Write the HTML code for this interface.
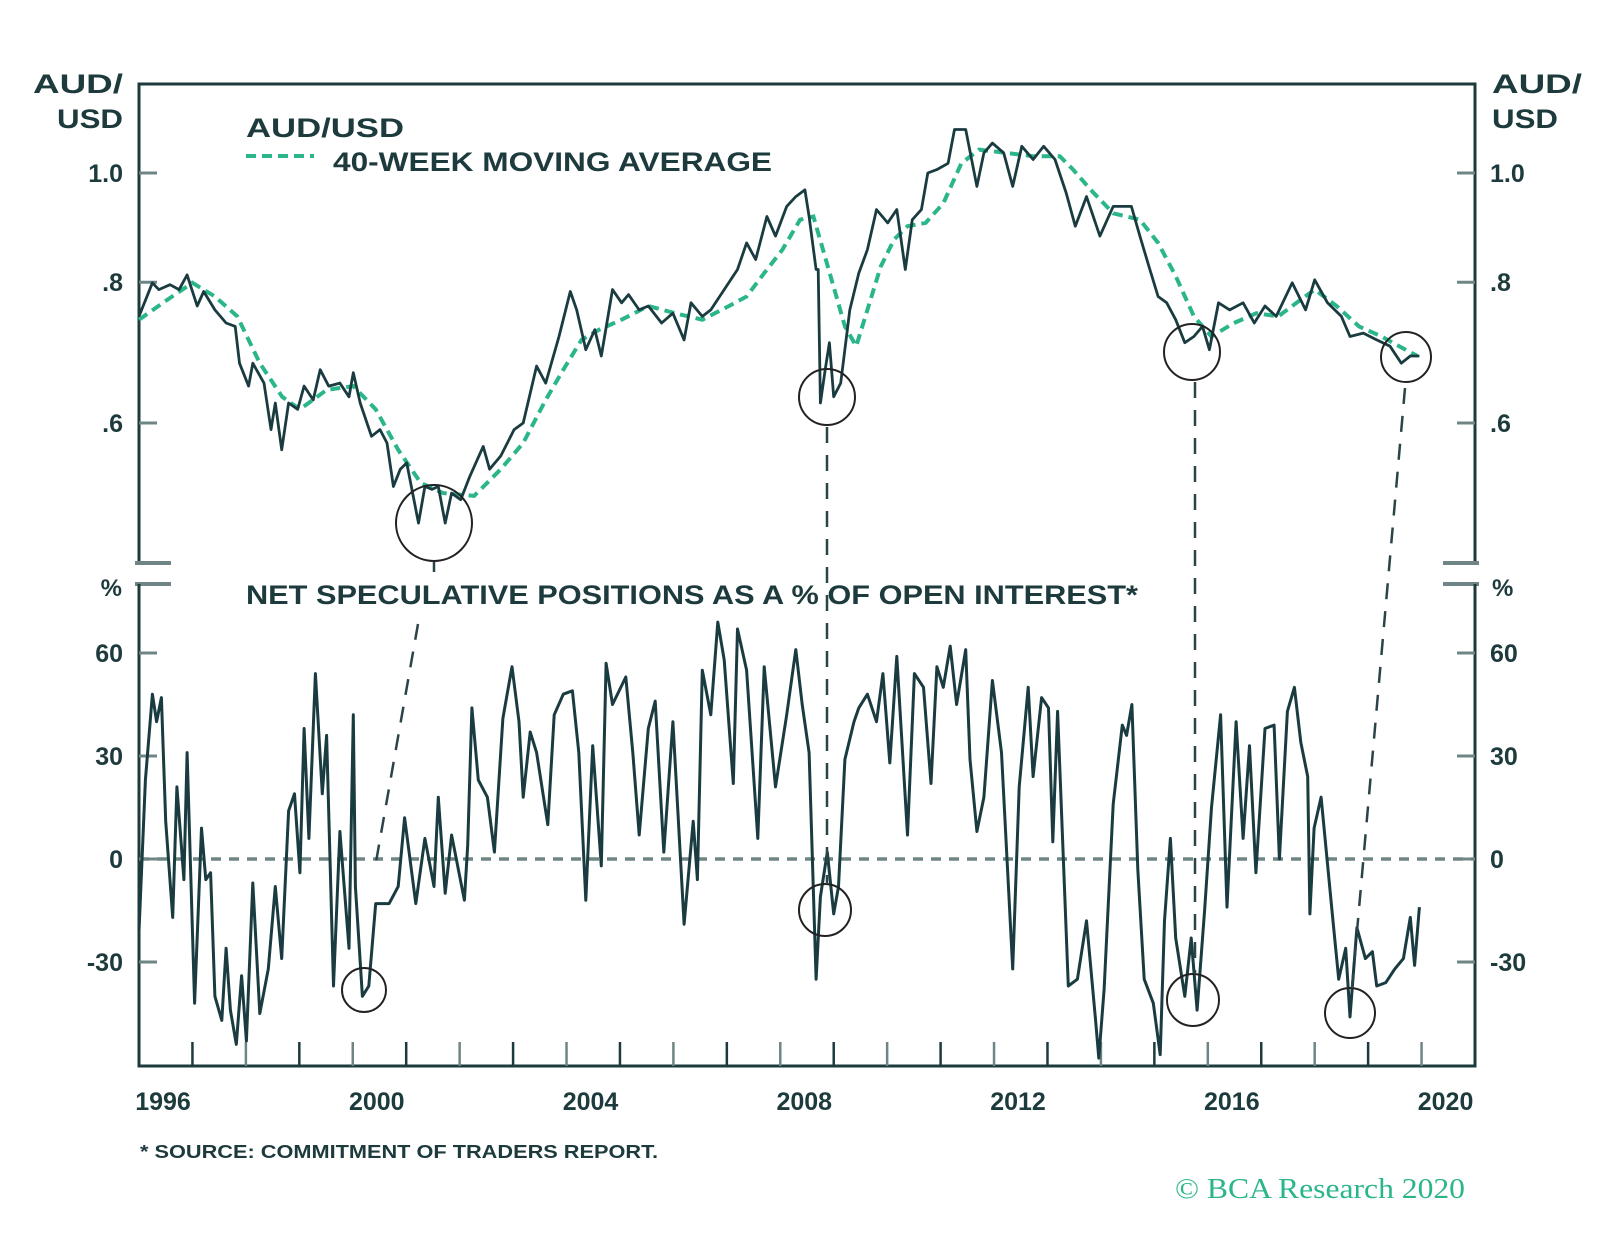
<!DOCTYPE html>
<html><head><meta charset="utf-8"><style>
html,body{margin:0;padding:0;background:#fff}
svg{display:block}
text{font-family:"Liberation Sans",sans-serif;fill:#1d3a3d;font-weight:bold}
</style></head><body>
<svg id="chart" width="1600" height="1243" viewBox="0 0 1600 1243" xmlns="http://www.w3.org/2000/svg">
<g id="static">
<text x="123" y="93" font-size="27" text-anchor="end" textLength="90" lengthAdjust="spacingAndGlyphs">AUD/</text>
<text x="123" y="128" font-size="27" text-anchor="end" textLength="66" lengthAdjust="spacingAndGlyphs">USD</text>
<text x="1492" y="93" font-size="27" textLength="90" lengthAdjust="spacingAndGlyphs">AUD/</text>
<text x="1492" y="128" font-size="27" textLength="66" lengthAdjust="spacingAndGlyphs">USD</text>
<text x="246" y="137" font-size="27" textLength="158" lengthAdjust="spacingAndGlyphs">AUD/USD</text>
<line x1="246" y1="156" x2="314" y2="156" stroke="#2bb58a" stroke-width="4" stroke-dasharray="10 6"/>
<text x="333" y="171" font-size="27" textLength="439" lengthAdjust="spacingAndGlyphs">40-WEEK MOVING AVERAGE</text>
<text x="246" y="604" font-size="27" textLength="892" lengthAdjust="spacingAndGlyphs">NET SPECULATIVE POSITIONS AS A % OF OPEN INTEREST*</text>
<text x="122" y="596" font-size="24" text-anchor="end">%</text>
<text x="1492" y="596" font-size="24">%</text>
<text x="140" y="1158" font-size="18" textLength="518" lengthAdjust="spacingAndGlyphs">* SOURCE: COMMITMENT OF TRADERS REPORT.</text>
<text x="1175" y="1198" font-size="29" textLength="290" lengthAdjust="spacingAndGlyphs" style="font-family:'Liberation Serif',serif;font-weight:normal;fill:#2bb58a">© BCA Research 2020</text>
</g>
<g id="frame"></g>
<g id="marks"></g>
</svg>
<script>
const audYears=[1996.0,1996.25,1996.37,1996.58,1996.75,1996.9,1997.09,1997.21,1997.42,1997.63,1997.8,1997.88,1998.05,1998.13,1998.34,1998.47,1998.55,1998.67,1998.8,1998.97,1999.09,1999.26,1999.39,1999.55,1999.76,1999.93,2000.01,2000.14,2000.35,2000.51,2000.64,2000.76,2000.89,2001.01,2001.23,2001.35,2001.48,2001.6,2001.73,2001.85,2002.02,2002.19,2002.44,2002.56,2002.77,2003.02,2003.19,2003.44,2003.61,2003.86,2004.07,2004.19,2004.36,2004.53,2004.65,2004.86,2005.03,2005.16,2005.36,2005.53,2005.78,2005.99,2006.2,2006.33,2006.54,2006.7,2006.95,2007.2,2007.37,2007.54,2007.75,2007.91,2008.12,2008.29,2008.46,2008.54,2008.67,2008.71,2008.75,2008.84,2008.92,2009.0,2009.13,2009.3,2009.47,2009.63,2009.8,2010.01,2010.18,2010.34,2010.47,2010.64,2010.76,2010.93,2011.14,2011.26,2011.47,2011.68,2011.81,2011.97,2012.18,2012.35,2012.52,2012.73,2012.93,2013.14,2013.35,2013.52,2013.73,2013.98,2014.23,2014.57,2014.73,2014.9,2015.07,2015.23,2015.4,2015.57,2015.74,2015.9,2016.03,2016.2,2016.41,2016.66,2016.87,2017.07,2017.28,2017.58,2017.83,2018.0,2018.24,2018.5,2018.66,2018.91,2019.16,2019.41,2019.62,2019.79,2019.96];
const audValues=[0.746,0.799,0.788,0.796,0.788,0.812,0.762,0.785,0.756,0.736,0.731,0.678,0.647,0.678,0.651,0.592,0.625,0.568,0.625,0.617,0.647,0.629,0.669,0.647,0.651,0.633,0.665,0.625,0.584,0.592,0.576,0.527,0.546,0.553,0.489,0.527,0.524,0.527,0.489,0.520,0.513,0.538,0.572,0.546,0.561,0.592,0.600,0.674,0.651,0.716,0.785,0.756,0.697,0.726,0.688,0.788,0.767,0.780,0.756,0.762,0.736,0.751,0.711,0.767,0.746,0.756,0.788,0.821,0.867,0.838,0.915,0.879,0.934,0.953,0.966,0.915,0.821,0.821,0.625,0.669,0.707,0.633,0.651,0.756,0.815,0.855,0.928,0.903,0.928,0.821,0.909,0.928,1.0,1.007,1.02,1.093,1.093,0.973,1.042,1.063,1.042,0.973,1.056,1.028,1.056,1.028,0.96,0.897,0.953,0.879,0.934,0.934,0.879,0.826,0.777,0.767,0.741,0.707,0.716,0.731,0.697,0.767,0.756,0.767,0.736,0.762,0.746,0.799,0.756,0.804,0.767,0.746,0.716,0.721,0.711,0.702,0.678,0.688,0.688];
const maYears=[1996.0,1996.5,1997.0,1997.42,1997.84,1998.26,1998.68,1999.01,1999.51,2000.01,2000.43,2000.85,2001.27,2001.69,2002.27,2002.77,2003.19,2003.61,2003.94,2004.28,2004.61,2005.03,2005.53,2006.03,2006.54,2007.04,2007.37,2007.7,2008.04,2008.37,2008.62,2008.8,2009.05,2009.21,2009.42,2009.63,2009.88,2010.13,2010.38,2010.72,2011.05,2011.39,2011.72,2012.22,2012.73,2013.23,2013.48,2013.81,2014.23,2014.73,2015.07,2015.4,2015.74,2016.07,2016.49,2016.91,2017.32,2017.66,2018.0,2018.41,2018.83,2019.25,2019.58,2019.92];
const maValues=[0.741,0.77,0.799,0.777,0.746,0.678,0.633,0.617,0.642,0.647,0.617,0.568,0.531,0.520,0.517,0.546,0.576,0.629,0.669,0.711,0.726,0.741,0.762,0.751,0.741,0.762,0.777,0.815,0.855,0.909,0.915,0.855,0.777,0.731,0.702,0.756,0.826,0.873,0.897,0.903,0.940,1.02,1.049,1.042,1.035,1.035,1.007,0.966,0.921,0.909,0.867,0.810,0.746,0.716,0.736,0.751,0.746,0.767,0.788,0.762,0.731,0.716,0.702,0.688];
const posYears=[1996.0,1996.12,1996.25,1996.33,1996.42,1996.5,1996.63,1996.71,1996.84,1996.9,1997.04,1997.17,1997.25,1997.34,1997.42,1997.55,1997.63,1997.71,1997.82,1997.92,1998.01,1998.13,1998.26,1998.42,1998.55,1998.67,1998.8,1998.91,1999.01,1999.09,1999.18,1999.3,1999.43,1999.51,1999.64,1999.76,1999.93,2000.01,2000.05,2000.18,2000.3,2000.43,2000.68,2000.85,2000.97,2001.18,2001.35,2001.52,2001.6,2001.73,2001.85,2002.09,2002.15,2002.23,2002.35,2002.52,2002.65,2002.81,2002.98,2003.11,2003.19,2003.32,2003.44,2003.65,2003.77,2003.94,2004.11,2004.23,2004.36,2004.49,2004.65,2004.74,2004.86,2005.11,2005.24,2005.36,2005.53,2005.66,2005.82,2005.99,2006.2,2006.37,2006.45,2006.54,2006.7,2006.83,2006.95,2007.12,2007.2,2007.37,2007.58,2007.7,2007.91,2008.12,2008.29,2008.41,2008.54,2008.67,2008.75,2008.88,2009.0,2009.09,2009.21,2009.38,2009.47,2009.63,2009.8,2009.92,2010.05,2010.18,2010.38,2010.51,2010.68,2010.82,2010.93,2011.05,2011.18,2011.3,2011.47,2011.55,2011.68,2011.81,2011.97,2012.14,2012.35,2012.47,2012.64,2012.73,2012.89,2013.02,2013.1,2013.19,2013.39,2013.56,2013.73,2013.9,2013.96,2014.06,2014.23,2014.4,2014.48,2014.58,2014.69,2014.81,2014.98,2015.11,2015.19,2015.3,2015.4,2015.57,2015.69,2015.8,2015.94,2016.07,2016.24,2016.36,2016.53,2016.66,2016.78,2016.9,2017.07,2017.24,2017.34,2017.49,2017.62,2017.74,2017.87,2017.91,2017.99,2018.12,2018.33,2018.45,2018.58,2018.66,2018.79,2018.95,2019.08,2019.16,2019.33,2019.5,2019.66,2019.79,2019.87,2019.96];
const posValues=[-21,23,48,40,47,11,-17,21,-6,31,-42,9,-6,-4,-40,-47,-26,-44,-54,-34,-53,-7,-45,-32,-8,-29,14,19,-4,38,6,54,19,36,-37,8,-26,42,-8,-40,-37,-13,-13,-8,12,-13,6,-8,18,-10,7,-12,4,44,23,18,2,41,56,40,18,37,31,10,42,48,49,31,-12,33,-2,57,45,53,31,7,38,46,2,40,-19,11,-6,55,42,69,58,22,67,55,6,56,21,42,61,45,31,-35,-11,2,-16,-8,29,40,44,48,40,54,28,59,7,54,50,22,56,50,62,45,61,29,8,18,52,31,-32,21,50,24,47,44,5,43,-37,-35,-18,-47,-58,-38,16,39,36,45,-3,-35,-42,-57,-18,6,-23,-40,-23,-44,-15,15,42,-14,40,6,33,-4,38,39,0,43,50,34,24,-16,9,18,-16,-35,-26,-46,-20,-29,-27,-37,-36,-32,-29,-17,-31,-14];
const upperTicks=[1.0,0.8,0.6];
const upperTickLabels=["1.0",".8",".6"];
const lowerTicks=[60,30,0,-30];
const lowerTickLabels=["60","30","0","-30"];
const yearLabels=[1996,2000,2004,2008,2012,2016,2020];

const L=139,R=1475,TOP=84,UB=563,LT=584,LB=1066;
const x=y=>L+(y-1996)*(R-L)/25;
const yU=v=>173-1127*Math.log10(v);
const yL=p=>859-p*103/30;
const NS="http://www.w3.org/2000/svg";
const frame=document.getElementById('frame'),marks=document.getElementById('marks');
function mk(tag,attrs,parent){const e=document.createElementNS(NS,tag);for(const k in attrs)e.setAttribute(k,attrs[k]);parent.appendChild(e);return e;}
const dark="#1d3a3d",gray="#6f8585";
let e;
e=mk('path',{d:`M${L},${UB} L${L},${TOP} L${R},${TOP} L${R},${UB}`,fill:'none',stroke:dark,'stroke-width':3},frame);


e=mk('path',{d:`M${L-4},${UB} h36 M${R+4},${UB} h-36 M${L-4},${LT} h36 M${R+4},${LT} h-36`,stroke:gray,'stroke-width':4},frame);


e=mk('path',{d:`M${L},${LT} L${L},${LB} L${R},${LB} L${R},${LT}`,fill:'none',stroke:dark,'stroke-width':3},frame);


upperTicks.forEach((v,i)=>{
  const yy=yU(v);
  e=mk('path',{d:`M${L},${yy} h18 M${R},${yy} h-18`,stroke:gray,'stroke-width':3},frame);
  
  
  e=mk('text',{x:123,y:yy+9,'font-size':25,'text-anchor':'end'},frame);e.textContent=upperTickLabels[i];
  
  
  e=mk('text',{x:1490,y:yy+9,'font-size':25},frame);e.textContent=upperTickLabels[i];
  
  
});
lowerTicks.forEach((v,i)=>{
  const yy=yL(v);
  e=mk('path',{d:`M${L},${yy} h18 M${R},${yy} h-18`,stroke:gray,'stroke-width':3},frame);
  
  
  e=mk('text',{x:123,y:yy+9,'font-size':25,'text-anchor':'end'},frame);e.textContent=lowerTickLabels[i];
  
  
  e=mk('text',{x:1490,y:yy+9,'font-size':25},frame);e.textContent=lowerTickLabels[i];
  
  
});
for(let yr=1997;yr<=2020;yr++){
  e=mk('line',{x1:x(yr),x2:x(yr),y1:LB,y2:LB-24,stroke:yr%2?dark:gray,'stroke-width':2.5},frame);
  
  
}
yearLabels.forEach(yr=>{
  e=mk('text',{x:x(yr)+24,y:1110,'font-size':25,'text-anchor':'middle'},frame);e.textContent=yr;
  
  
});
e=mk('line',{x1:L,x2:R,y1:yL(0),y2:yL(0),stroke:gray,'stroke-width':3.5,'stroke-dasharray':'10 8'},marks);


const path=(xs,ys,f)=>xs.map((t,i)=>(i?'L':'M')+x(t).toFixed(1)+','+f(ys[i]).toFixed(1)).join(' ');
e=mk('path',{d:path(maYears,maValues,yU),fill:'none',stroke:'#2bb58a','stroke-width':4,'stroke-dasharray':'10 6'},marks);


e=mk('path',{d:path(audYears,audValues,yU),fill:'none',stroke:'#1a3c40','stroke-width':2.8,'stroke-linejoin':'round'},marks);


e=mk('path',{d:path(posYears,posValues,yL),fill:'none',stroke:'#1a3c40','stroke-width':3,'stroke-linejoin':'round'},marks);


const circles=[[434,523,38],[827,397,28],[1192,352,28],[1406,357,25],[364,990,22],[825,910,26],[1193,1000,26],[1350,1013,25]];
circles.forEach(c=>{
  e=mk('circle',{cx:c[0],cy:c[1],r:c[2],fill:'none',stroke:'#222','stroke-width':2},marks);
  
  
});
const links=[[434,562,434,572],[418,624,376,862],[827,427,827,884],[1195,382,1195,974],[1405,388,1352,988]];
links.forEach(l=>{
  e=mk('line',{x1:l[0],y1:l[1],x2:l[2],y2:l[3],stroke:'#2b4447','stroke-width':2.5,'stroke-dasharray':'16 12'},marks);
  
  
});
</script>
</body></html>
